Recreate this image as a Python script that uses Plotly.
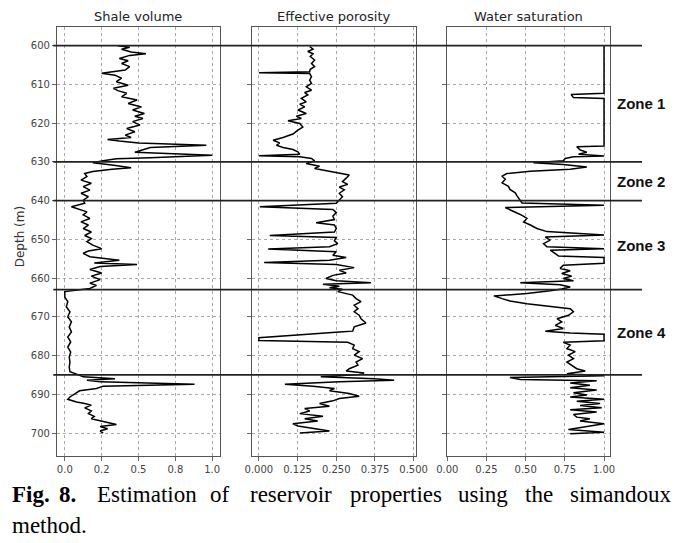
import plotly.graph_objects as go

# ---------------- data ----------------
vsh_depth = [600.0, 600.4, 600.9, 601.6, 602.1, 602.5, 603.3, 603.9, 604.6, 605.4, 606.3, 607.1, 607.6, 608.4,
             609.3, 610.2, 611.0, 611.6, 612.3, 613.2, 614.0, 614.9, 615.8, 616.6, 617.5, 618.2, 618.8, 619.6,
             620.5, 621.4, 622.2, 623.1, 623.7, 624.2, 624.6, 625.1, 625.7, 626.3, 627.5, 628.3, 628.9, 629.2,
             629.7, 630.2, 630.8, 631.5, 631.9, 632.5, 633.0, 633.8, 634.7, 635.5, 636.4, 637.3, 638.1, 639.0,
             639.9, 640.7, 641.6, 642.2, 642.9, 643.7, 644.6, 645.5, 646.3, 647.2, 648.1, 649.0, 649.8, 650.6,
             651.5, 652.4, 653.0, 653.6, 654.5, 655.4, 656.1, 656.5, 657.0, 657.8, 658.7, 659.5, 660.4, 661.3,
             661.9, 662.7, 663.1, 663.5, 664.9, 666.1, 667.4, 668.7, 670.0, 671.3, 672.6, 673.9, 675.2, 676.5,
             677.8, 679.1, 680.4, 681.7, 683.0, 684.2, 684.8, 685.5, 686.0, 686.4, 686.8, 687.4, 687.9, 688.5,
             689.1, 689.8, 690.7, 691.3, 692.0, 692.4, 692.8, 693.5, 694.3, 695.0, 695.7, 696.3, 697.2, 697.8,
             698.3, 698.9, 699.5, 700.0]
vsh = [0.36, 0.44, 0.385, 0.45, 0.55, 0.44, 0.37, 0.43, 0.385, 0.44, 0.41, 0.25, 0.34, 0.385,
       0.35, 0.43, 0.33, 0.36, 0.42, 0.385, 0.49, 0.43, 0.52, 0.46, 0.54, 0.475, 0.53, 0.46,
       0.51, 0.42, 0.475, 0.41, 0.45, 0.29, 0.37, 0.50, 0.96, 0.58, 0.475, 1.0, 0.58, 0.35,
       0.26, 0.19, 0.32, 0.45, 0.32, 0.19, 0.135, 0.15, 0.11, 0.18, 0.125, 0.17, 0.11, 0.16,
       0.125, 0.135, 0.045, 0.09, 0.15, 0.125, 0.17, 0.11, 0.16, 0.125, 0.18, 0.135, 0.18, 0.15,
       0.19, 0.25, 0.16, 0.125, 0.17, 0.37, 0.20, 0.49, 0.24, 0.17, 0.25, 0.18, 0.24, 0.17,
       0.215, 0.17, 0.10, 0.0, 0.0, 0.02, 0.01, 0.035, 0.02, 0.045, 0.03, 0.045, 0.02, 0.04,
       0.02, 0.04, 0.03, 0.035, 0.03, 0.035, 0.08, 0.125, 0.34, 0.15, 0.24, 0.88, 0.26, 0.215,
       0.10, 0.07, 0.035, 0.02, 0.08, 0.135, 0.18, 0.135, 0.18, 0.16, 0.20, 0.18, 0.28, 0.35,
       0.24, 0.29, 0.24, 0.26]

phi_depth = [600.2, 600.9, 601.5, 602.1, 602.8, 603.7, 604.6, 605.4, 606.1, 606.7, 607.0, 607.2, 608.0, 608.9,
             609.7, 610.6, 611.5, 612.1, 612.7, 613.6, 614.5, 615.1, 615.8, 616.6, 617.5, 618.2, 618.8, 619.4,
             620.1, 621.0, 621.8, 622.8, 623.7, 624.4, 625.1, 625.7, 626.3, 626.8, 627.4, 628.0, 628.4, 628.7,
             629.1, 629.7, 630.4, 631.1, 631.7, 632.5, 633.4, 634.2, 635.1, 635.8, 636.5, 637.2, 638.1, 639.0,
             639.8, 640.7, 641.6, 642.3, 643.1, 644.0, 644.9, 645.7, 646.3, 647.2, 648.1, 649.0, 649.5, 650.4,
             651.1, 651.9, 652.5, 653.2, 654.1, 654.7, 655.4, 656.0, 656.5, 657.3, 658.0, 658.7, 659.3, 660.1,
             660.7, 661.2, 661.6, 662.1, 662.5, 662.9, 663.5, 664.4, 665.3, 666.1, 667.0, 667.9, 668.7, 669.6,
             670.5, 671.6, 672.6, 673.7, 673.9, 675.4, 676.1, 676.6, 677.3, 678.2, 679.0, 679.9, 680.8, 681.7,
             682.5, 683.4, 684.0, 684.5, 684.9, 685.5, 686.0, 686.4, 686.8, 687.4, 687.9, 688.5, 689.1, 689.8,
             690.5, 691.1, 691.7, 692.4, 693.1, 693.7, 694.3, 695.0, 695.7, 696.3, 696.9, 697.6, 698.2, 698.9,
             699.5, 700.0]
phi = [0.164, 0.175, 0.158, 0.175, 0.166, 0.18, 0.17, 0.18, 0.166, 0.164, 0.0, 0.164, 0.17, 0.164,
       0.17, 0.153, 0.17, 0.148, 0.158, 0.137, 0.153, 0.132, 0.148, 0.126, 0.153, 0.121, 0.137, 0.094,
       0.132, 0.142, 0.126, 0.11, 0.078, 0.046, 0.067, 0.057, 0.078, 0.11, 0.126, 0.132, 0.0, 0.132,
       0.17, 0.18, 0.153, 0.196, 0.18, 0.239, 0.292, 0.282, 0.27, 0.287, 0.26, 0.276, 0.26, 0.27,
       0.26, 0.25, 0.003, 0.239, 0.25, 0.239, 0.244, 0.185, 0.244, 0.25, 0.244, 0.035, 0.25, 0.244,
       0.255, 0.228, 0.03, 0.25, 0.239, 0.282, 0.228, 0.017, 0.25, 0.308, 0.26, 0.282, 0.239, 0.217,
       0.25, 0.362, 0.207, 0.26, 0.228, 0.27, 0.255, 0.303, 0.314, 0.33, 0.308, 0.32, 0.308, 0.324,
       0.33, 0.346, 0.308, 0.303, 0.26, 0.0, 0.0, 0.287, 0.308, 0.303, 0.324, 0.308, 0.335, 0.314,
       0.32, 0.292, 0.282, 0.34, 0.324, 0.2, 0.373, 0.437, 0.26, 0.084, 0.175, 0.244, 0.228, 0.292,
       0.324, 0.26, 0.239, 0.196, 0.228, 0.148, 0.164, 0.132, 0.207, 0.148, 0.19, 0.11, 0.126, 0.185,
       0.228, 0.132]

sw_depth = [600.0, 612.3, 612.6, 613.4, 613.6, 625.9, 626.1, 626.9, 627.5, 628.0, 628.5, 628.7, 629.1, 629.7,
            630.2, 630.7, 631.3, 631.9, 632.4, 633.0, 633.7, 634.5, 635.4, 636.3, 637.1, 638.0, 638.8, 639.9,
            640.6, 641.2, 641.8, 643.0, 643.8, 644.6, 645.5, 646.3, 647.2, 648.0, 648.9, 649.4, 650.2, 651.1,
            651.9, 652.4, 652.8, 653.7, 654.3, 654.7, 656.2, 656.7, 657.5, 658.1, 658.8, 659.5, 660.1, 660.7,
            661.2, 661.7, 662.3, 662.8, 663.3, 664.0, 664.6, 665.3, 665.9, 666.6, 667.3, 667.9, 668.7, 669.6,
            670.5, 671.3, 672.2, 673.0, 673.7, 674.2, 674.5, 676.2, 676.6, 677.3, 678.2, 679.0, 679.9, 680.8,
            681.7, 682.5, 683.4, 684.0, 684.7, 685.2, 685.7, 686.2, 686.5, 687.1, 687.7, 688.3, 688.9, 689.6,
            690.2, 690.7, 691.3, 691.8, 692.4, 692.9, 693.5, 694.0, 694.6, 695.2, 695.9, 696.3, 696.9, 697.6,
            698.4, 699.1, 699.8, 700.2]
sw = [1.0, 1.0, 0.79, 0.805, 1.0, 1.0, 0.826, 0.847, 0.89, 0.837, 1.0, 0.805, 0.752, 0.74,
      0.55, 0.74, 0.89, 0.784, 0.53, 0.38, 0.35, 0.37, 0.35, 0.39, 0.40, 0.434, 0.445, 0.466,
      0.477, 1.0, 0.37, 0.434, 0.477, 0.508, 0.487, 0.53, 0.572, 0.636, 1.0, 0.625, 0.657, 0.614,
      0.636, 1.0, 0.657, 0.689, 0.71, 1.0, 1.0, 0.74, 0.72, 0.784, 0.73, 0.794, 0.74, 0.805,
      0.466, 0.72, 0.784, 0.73, 0.657, 0.508, 0.297, 0.35, 0.40, 0.508, 0.657, 0.784, 0.805, 0.773,
      0.70, 0.73, 0.689, 0.74, 0.625, 0.784, 1.0, 1.0, 0.74, 0.784, 0.763, 0.816, 0.773, 0.805,
      0.763, 0.794, 0.826, 0.88, 0.763, 1.0, 0.40, 0.466, 0.953, 0.784, 0.91, 0.784, 0.953, 0.805,
      0.89, 0.784, 1.0, 0.826, 0.975, 0.847, 0.985, 0.784, 0.953, 0.805, 0.826, 0.91, 0.847, 1.0,
      0.87, 0.773, 1.0, 0.784]

track_titles = ["Shale volume", "Effective porosity", "Water saturation"]
vsh_ticks = [0.0, 0.25, 0.5, 0.75, 1.0]
vsh_ticktext = ["0.0", "0.2", "0.5", "0.8", "1.0"]
phi_ticks = [0.0, 0.125, 0.25, 0.375, 0.5]
phi_ticktext = ["0.000", "0.125", "0.250", "0.375", "0.500"]
sw_ticks = [0.0, 0.25, 0.5, 0.75, 1.0]
sw_ticktext = ["0.00", "0.25", "0.50", "0.75", "1.00"]
depth_ticks = list(range(600, 701, 10))
zone_tops = [600, 630, 640, 663, 685]
zone_names = ["Zone 1", "Zone 2", "Zone 3", "Zone 4"]
caption_words = ["Fig.", "8.", "Estimation", "of", "reservoir", "properties", "using", "the", "simandoux"]
caption_line2 = "method."

# ---------------- layout helpers ----------------
# page has an 8px body margin: figure is drawn 8px smaller and coordinates are page pixels
PAGE_W, PAGE_H, OFF = 693, 543, 8
W, H = PAGE_W - OFF, PAGE_H - OFF
L, R, T, B = 56.7, 610.0, 27.0, 456.0   # plot area in page pixels


def px_x(p):
    return (p - L) / (R - L)


def px_y(p):
    return (B - p) / (B - T)


domains = [[0.0, px_x(219.5)], [px_x(251.7), px_x(415.7)], [px_x(446.7), 1.0]]
xranges = [[-0.053, 1.051], [-0.0226, 0.507], [-0.003, 1.038]]
ticks = [(vsh_ticks, vsh_ticktext), (phi_ticks, phi_ticktext), (sw_ticks, sw_ticktext)]
series = [(vsh, vsh_depth), (phi, phi_depth), (sw, sw_depth)]

fig = go.Figure()
for i, (xv, yv) in enumerate(series):
    sfx = "" if i == 0 else str(i + 1)
    fig.add_trace(go.Scatter(x=xv, y=yv, mode="lines",
                             line=dict(color="black", width=1.5),
                             xaxis="x" + sfx, yaxis="y" + sfx, showlegend=False,
                             hoverinfo="skip"))

axis_common = dict(showgrid=True, gridcolor="#a8a8a8", griddash="dot", gridwidth=1,
                   showline=True, mirror=True, linecolor="#555", linewidth=1.2,
                   ticks="outside", ticklen=4, tickcolor="#666", zeroline=False,
                   tickfont=dict(family="DejaVu Sans", size=10, color="#444"))

layout = dict(width=W, height=H,
              margin=dict(l=L - OFF, r=PAGE_W - R, t=T - OFF, b=PAGE_H - B, pad=0, autoexpand=False),
              paper_bgcolor="white", plot_bgcolor="white", showlegend=False)
for i in range(3):
    sfx = "" if i == 0 else str(i + 1)
    layout["xaxis" + sfx] = dict(axis_common, domain=domains[i], range=xranges[i],
                                 tickvals=ticks[i][0], ticktext=ticks[i][1],
                                 anchor="y" + sfx)
    layout["yaxis" + sfx] = dict(axis_common, domain=[0, 1], range=[705.94, 595.17],
                                 tickvals=depth_ticks, anchor="x" + sfx,
                                 showticklabels=(i == 0))
fig.update_layout(**layout)

# zone boundary lines
for d in zone_tops:
    fig.add_shape(type="line", xref="paper", yref="y", x0=px_x(53), x1=px_x(642),
                  y0=d, y1=d, line=dict(color="#222", width=1.8), layer="above")

# zone labels at zone mid-depths
for k, name in enumerate(zone_names):
    mid = (zone_tops[k] + zone_tops[k + 1]) / 2
    fig.add_annotation(x=px_x(615), y=mid, xref="paper", yref="y", text="<b>" + name + "</b>",
                       showarrow=False, xanchor="left", yanchor="middle",
                       font=dict(family="Liberation Sans", size=15, color="#111"))

# track titles
for i, t in enumerate(track_titles):
    fig.add_annotation(x=sum(domains[i]) / 2, y=px_y(17), xref="paper", yref="paper",
                       text=t, showarrow=False, xanchor="center", yanchor="middle",
                       font=dict(family="DejaVu Sans", size=13, color="#222"))

# depth label
fig.add_annotation(x=px_x(20), y=px_y(237), xref="paper", yref="paper", text="Depth (m)",
                   textangle=-90, showarrow=False, xanchor="center", yanchor="middle",
                   font=dict(family="DejaVu Sans", size=12, color="#333"))

# caption (justified first line)
word_x = [10, 57, 95, 208, 248, 348, 456, 523, 568]
for k, w in enumerate(caption_words):
    txt = "<b>" + w + "</b>" if k < 2 else w
    fig.add_annotation(x=px_x(word_x[k]), y=px_y(495), xref="paper", yref="paper", text=txt,
                       showarrow=False, xanchor="left", yanchor="middle",
                       font=dict(family="Liberation Serif", size=23, color="black"))
fig.add_annotation(x=px_x(10), y=px_y(525), xref="paper", yref="paper", text=caption_line2,
                   showarrow=False, xanchor="left", yanchor="middle",
                   font=dict(family="Liberation Serif", size=23, color="black"))

fig.write_html("out.html")
